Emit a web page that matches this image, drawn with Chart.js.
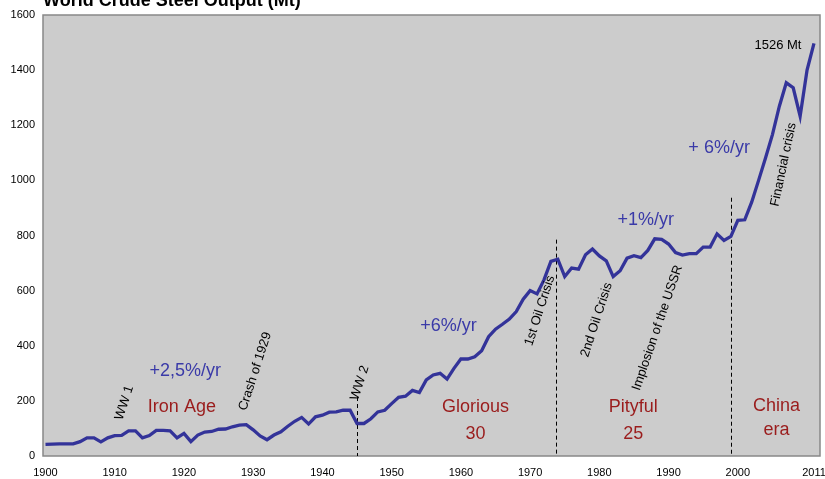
<!DOCTYPE html>
<html>
<head>
<meta charset="utf-8">
<script src="https://cdn.jsdelivr.net/npm/chart.js@4.4.0/dist/chart.umd.min.js"></script>
<style>
  html, body { margin: 0; padding: 0; background: #ffffff; }
  #box { width: 825px; height: 479px; }
</style>
</head>
<body>
<div id="box"><canvas id="myChart" width="825" height="479"></canvas></div>
<script>
const years = [
  1900, 1901, 1902, 1903, 1904, 1905, 1906, 1907, 1908, 1909,
  1910, 1911, 1912, 1913, 1914, 1915, 1916, 1917, 1918, 1919,
  1920, 1921, 1922, 1923, 1924, 1925, 1926, 1927, 1928, 1929,
  1930, 1931, 1932, 1933, 1934, 1935, 1936, 1937, 1938, 1939,
  1940, 1941, 1942, 1943, 1944, 1945, 1946, 1947, 1948, 1949,
  1950, 1951, 1952, 1953, 1954, 1955, 1956, 1957, 1958, 1959,
  1960, 1961, 1962, 1963, 1964, 1965, 1966, 1967, 1968, 1969,
  1970, 1971, 1972, 1973, 1974, 1975, 1976, 1977, 1978, 1979,
  1980, 1981, 1982, 1983, 1984, 1985, 1986, 1987, 1988, 1989,
  1990, 1991, 1992, 1993, 1994, 1995, 1996, 1997, 1998, 1999,
  2000, 2001, 2002, 2003, 2004, 2005, 2006, 2007, 2008, 2009,
  2010, 2011
];

// world crude steel output, Mt
const output = [
  42, 43, 44, 44, 44, 52, 66, 66, 51, 66,
  74, 75, 91, 91, 66, 74, 93, 93, 91, 66,
  82, 52, 76, 87, 89, 97, 98, 106, 112, 114,
  95, 73, 59, 76, 88, 108, 126, 140, 116, 142,
  148, 159, 160, 166, 166, 118, 118, 135, 160, 166,
  190, 213, 217, 238, 230, 276, 294, 300, 279, 318,
  352, 352, 360, 382, 433, 460, 478, 497, 524, 569,
  600, 588, 639, 706, 714, 651, 682, 678, 730, 751,
  726, 708, 651, 672, 718, 727, 720, 746, 788, 786,
  769, 738, 729, 734, 734, 758, 758, 806, 782, 797,
  855, 857, 921, 1000, 1081, 1166, 1269, 1354, 1336, 1233,
  1400, 1497
];

const xTickYears = [1900, 1910, 1920, 1930, 1940, 1950, 1960, 1970, 1980, 1990, 2000, 2011];
const yTicks = [0, 200, 400, 600, 800, 1000, 1200, 1400, 1600];

// vertical dashed markers: year and how high they reach
const markerYears = [1945, 1973.7, 1999];
const markerTops = [214, 785, 937];

// rotated event notes, anchored at [year, value]
const events = [
  { text: 'WW 1', at: [1911.4, 193], angle: -72 },
  { text: 'Crash of 1929', at: [1930.3, 307], angle: -72 },
  { text: 'WW 2', at: [1945.4, 265], angle: -72 },
  { text: '1st Oil Crisis', at: [1971.4, 527], angle: -72 },
  { text: '2nd Oil Crisis', at: [1979.6, 494], angle: -72 },
  { text: 'Implosion of the USSR', at: [1988.4, 465], angle: -71 },
  { text: 'Financial crisis', at: [2006.6, 1057], angle: -78 },
];

const growthNotes = [
  { text: '+2,5%/yr', at: [1920.2, 309] },
  { text: '+6%/yr', at: [1958.2, 470] },
  { text: '+1%/yr', at: [1986.7, 857] },
  { text: '+ 6%/yr', at: [1997.3, 1117] },
];

const eraNotes = [
  { text: 'Iron Age', at: [1919.7, 178] },
  { text: 'Glorious', at: [1962.1, 176] },
  { text: '30', at: [1962.1, 80] },
  { text: 'Pityful', at: [1984.9, 176] },
  { text: '25', at: [1984.9, 80] },
  { text: 'China', at: [2005.6, 180] },
  { text: 'era', at: [2005.6, 94] },
];

const lastNote = { text: '1526 Mt', at: [2005.8, 1489] };
const chartTitle = 'World Crude Steel Output (Mt)';

const FONT = '"Liberation Sans", Arial, sans-serif';

function main() {
  const ctx = document.getElementById('myChart');

  const plotFrame = {
    id: 'plotFrame',
    beforeDatasetsDraw(chart) {
      const { ctx, chartArea: a, scales } = chart;
      ctx.save();
      ctx.fillStyle = '#cccccc';
      ctx.fillRect(a.left, a.top, a.right - a.left, a.bottom - a.top);
      ctx.strokeStyle = '#888888';
      ctx.lineWidth = 1.5;
      ctx.strokeRect(a.left, a.top, a.right - a.left, a.bottom - a.top);

      // dashed markers
      ctx.strokeStyle = '#000000';
      ctx.lineWidth = 1;
      ctx.setLineDash([4, 3]);
      markerYears.forEach((yr, i) => {
        const x = Math.round(scales.x.getPixelForValue(yr)) + 0.5;
        ctx.beginPath();
        ctx.moveTo(x, scales.y.getPixelForValue(markerTops[i]));
        ctx.lineTo(x, a.bottom);
        ctx.stroke();
      });
      ctx.restore();
    },
    afterDraw(chart) {
      const { ctx, scales } = chart;
      const px = p => [scales.x.getPixelForValue(p[0]), scales.y.getPixelForValue(p[1])];
      ctx.save();
      ctx.textAlign = 'center';
      ctx.textBaseline = 'middle';

      ctx.fillStyle = '#000000';
      ctx.font = `13px ${FONT}`;
      events.forEach(ev => {
        const [x, y] = px(ev.at);
        ctx.save();
        ctx.translate(x, y);
        ctx.rotate(ev.angle * Math.PI / 180);
        ctx.fillText(ev.text, 0, 0);
        ctx.restore();
      });

      ctx.fillStyle = '#3a3aa8';
      ctx.font = `18px ${FONT}`;
      growthNotes.forEach(n => {
        const [x, y] = px(n.at);
        ctx.fillText(n.text, x, y);
      });

      ctx.fillStyle = '#9a1c1c';
      eraNotes.forEach(n => {
        const [x, y] = px(n.at);
        ctx.fillText(n.text, x, y);
      });

      ctx.fillStyle = '#000000';
      ctx.font = `13px ${FONT}`;
      const [lx, ly] = px(lastNote.at);
      ctx.fillText(lastNote.text, lx, ly);

      // title, clipped at the top like the original
      ctx.textAlign = 'left';
      ctx.textBaseline = 'alphabetic';
      ctx.font = `bold 18px ${FONT}`;
      ctx.fillText(chartTitle, 43, 6);
      ctx.restore();
    },
  };

  new Chart(ctx, {
    type: 'line',
    data: {
      datasets: [
        {
          label: 'World crude steel output',
          data: years.map((yr, i) => ({ x: yr, y: output[i] })),
          borderColor: '#333399',
          borderWidth: 3.3,
          pointRadius: 0,
          tension: 0,
          fill: false,
        },
      ],
    },
    options: {
      responsive: false,
      devicePixelRatio: 1,
      animation: false,
      layout: { padding: { top: 15, right: 5, left: 0, bottom: 0 } },
      plugins: {
        legend: { display: false },
        tooltip: { enabled: false },
      },
      scales: {
        x: {
          type: 'linear',
          bounds: 'data',
          min: 1899.64,
          max: 2011.87,
          grid: { display: false, drawTicks: false },
          border: { display: false },
          afterBuildTicks: scale => {
            scale.ticks = xTickYears.map(v => ({ value: v }));
          },
          afterFit: scale => {
            scale.height = 23;
            scale.paddingLeft = 0;
            scale.paddingRight = 0;
          },
          ticks: {
            autoSkip: false,
            maxRotation: 0,
            padding: 10,
            color: '#000000',
            font: { family: FONT, size: 11 },
            callback: v => String(v),
          },
        },
        y: {
          min: 0,
          max: 1600,
          grid: { display: false, drawTicks: false },
          border: { display: false },
          afterBuildTicks: scale => {
            scale.ticks = yTicks.map(v => ({ value: v }));
          },
          afterFit: scale => {
            scale.width = 43;
            scale.paddingTop = 0;
            scale.paddingBottom = 0;
          },
          ticks: {
            padding: 8,
            color: '#000000',
            font: { family: FONT, size: 11 },
            callback: v => String(v),
          },
        },
      },
    },
    plugins: [plotFrame],
  });
}

main();
</script>
</body>
</html>
